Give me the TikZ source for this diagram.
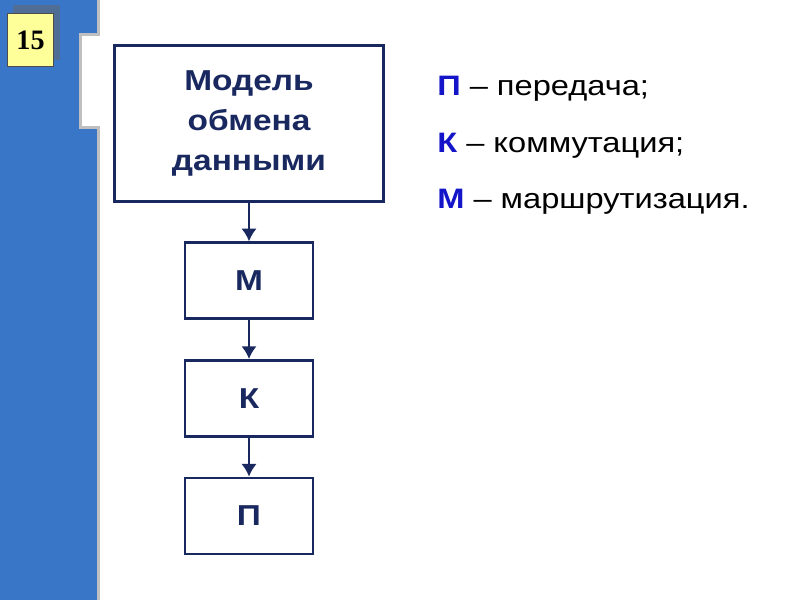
\documentclass[tikz,border=0pt]{standalone}
\usepackage{fontspec}
\setmainfont[FakeStretch=1.16]{Liberation Sans}
\newfontfamily\badgefont{Liberation Serif}
\usetikzlibrary{positioning,arrows.meta}
\definecolor{navy}{RGB}{25,40,95}
\definecolor{legendblue}{RGB}{20,20,200}
\definecolor{seablue}{RGB}{58,118,200}
\definecolor{badgeyellow}{RGB}{255,255,153}
\tikzstyle{block} = [rectangle, draw=navy, fill=white, text=navy, align=center,
font=\fontsize{20.5}{28.5}\selectfont\bfseries, line width=2pt]
\tikzstyle{badge} = [rectangle, draw=black!70, fill=badgeyellow, line width=0.8pt,
minimum width=1.15cm, minimum height=1.33cm, font=\badgefont\fontsize{20}{24}\selectfont\bfseries]
\tikzstyle{legend} = [anchor=base west, inner sep=0pt, font=\fontsize{20}{24}\selectfont]
\tikzstyle{line} = [draw=navy, -{Latex[length=9pt,width=11pt]}, line width=2pt]
\newcommand{\key}[1]{\textcolor{legendblue}{\textbf{#1}}}

\begin{document}
\begin{tikzpicture}[x=0.025cm, y=-0.025cm, node distance=0.97cm]
\useasboundingbox (0,0) rectangle (800,600);
% Background strip
	\fill[seablue] (0,0) rectangle (100,600);
	\fill[black!25] (97,0) rectangle (100,600);
	\fill[black!25] (79,33) rectangle (100,129);
	\fill[white] (82,36) rectangle (100,126);
	\fill[black!60, opacity=0.5] (13,5) rectangle (60,60);

% Place nodes
	\node [badge] (num) at (30.5,40) {15};
	\node [block, minimum width=6.72cm, minimum height=3.88cm] at (249,123.5) (model) {Модель\\обмена\\данными};
	\node [block, below=of model, minimum width=3.2cm, minimum height=1.9cm] (M) {М};
	\node [block, below=of M, minimum width=3.2cm, minimum height=1.9cm] (K) {К};
	\node [block, below=of K, minimum width=3.2cm, minimum height=1.9cm] (P) {П};

	\node [legend] at (437,95)  (lP) {\key{П} – передача;};
	\node [legend] at (437,152) (lK) {\key{К} – коммутация;};
	\node [legend] at (437,208) (lM) {\key{М} – маршрутизация.};

% Draw edges
	\path [line] (model) -- (M);
	\path [line] (M) -- (K);
	\path [line] (K) -- (P);

\end{tikzpicture}
\end{document}
